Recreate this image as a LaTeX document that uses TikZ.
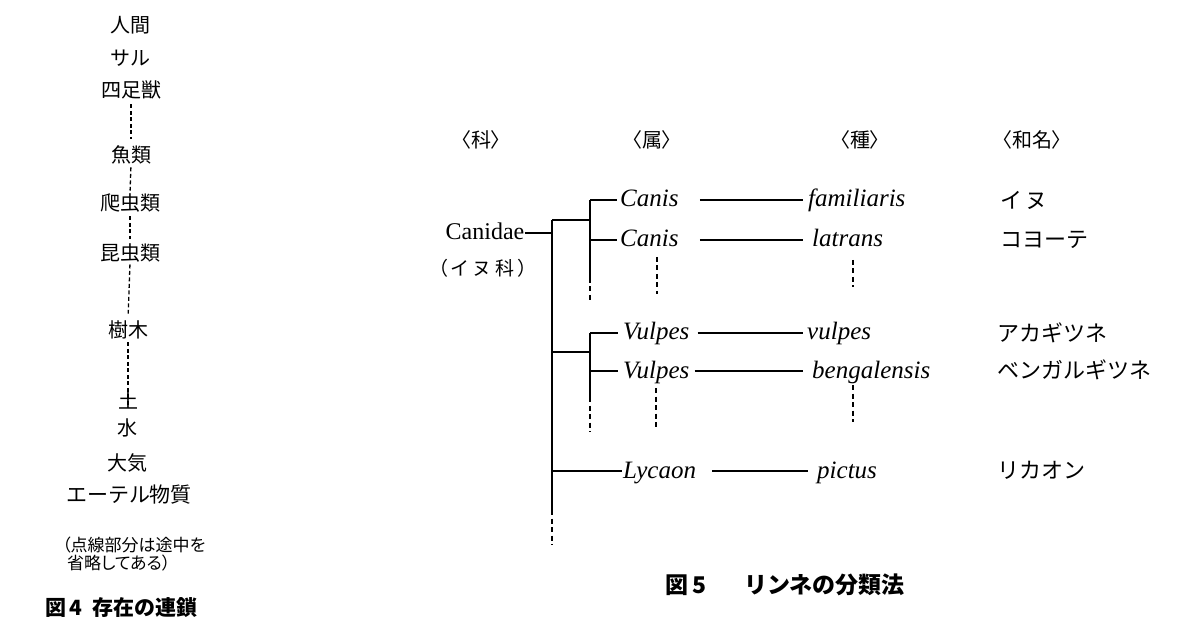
\documentclass[tikz,border=0pt]{standalone}
\usepackage{fontspec}
\setmainfont{Liberation Serif}
\newfontfamily\jp{Noto Sans CJK JP}
\newfontfamily\jpp[RawFeature=+palt]{Noto Sans CJK JP}
\tikzset{
  ln/.style={line width=1.4pt},
  dsh/.style={line width=1.4pt, dash pattern=on 5pt off 3.5pt},
  ldsh/.style={line width=1.3pt, dash pattern=on 4pt off 2.5pt},
  chain/.style={font=\jp\fontsize{20}{20}\selectfont, inner sep=0pt},
  latin/.style={font=\fontsize{25}{25}\selectfont\itshape, inner sep=0pt, text height=19pt, text depth=5pt, anchor=west},
  wamei/.style={font=\jp\fontsize{22}{22}\selectfont, inner sep=0pt, anchor=west},
  hdr/.style={font=\jpp\fontsize{20}{20}\selectfont, inner sep=0pt},
  captext/.style={font=\jp\bfseries\fontsize{22}{22}\selectfont, inner sep=0pt, anchor=west}
}
\begin{document}
\begin{tikzpicture}[x=1pt,y=-1pt]
\fill[white] (0,0) rectangle (1200,636);
\useasboundingbox (0,0) rectangle (1200,636);

% ---------- Figure 4: chain of being ----------
\node[chain] (c1) at (130,25) {人間};
\node[chain] (c2) at (130,58) {サル};
\node[chain] (c3) at (131,90) {四足獣};
\node[chain] (c4) at (131,155) {魚類};
\node[chain] (c5) at (130,203) {爬虫類};
\node[chain] (c6) at (130,253) {昆虫類};
\node[chain] (c7) at (128,330) {樹木};
\node[chain] (c8) at (128,400) {土};
\node[chain] (c9) at (127,428) {水};
\node[chain] (c10) at (127,463) {大気};
\node[chain, font=\jp\fontsize{21}{21}\selectfont] (c11) at (129,495) {エーテル物質};
\draw[ldsh, shorten <=5pt, shorten >=7pt] (c3.south) -- (c4.north);
\draw[ldsh, shorten <=3pt, shorten >=3pt] (c4.south) -- (c5.north);
\draw[ldsh, shorten <=4pt, shorten >=5pt] (c5.south) -- (c6.north);
\draw[ldsh, shorten <=2pt, shorten >=7pt] (c6.south) -- (c7.north);
\draw[ldsh, shorten <=3pt, shorten >=3pt] (c7.south) -- (c8.south);
\node[font=\jpp\fontsize{17}{18}\selectfont, inner sep=0pt, anchor=west, align=left] (note) at (62,554)
  {（点線部分は途中を\\\hspace{5pt}省略してある）};
\node[captext, font=\jp\bfseries\fontsize{21}{21}\selectfont] (cap4) at (45,608) {図\,4\hspace{10pt}存在の連鎖};

% ---------- Figure 5: Linnaean classification ----------
\node[hdr] (hka) at (481,140) {〈科〉};
\node[hdr] (hzoku) at (652,140) {〈属〉};
\node[hdr] (hshu) at (860,140) {〈種〉};
\node[hdr] (hwa) at (1032,140) {〈和名〉};

\node[latin, font=\fontsize{24}{24}\selectfont, anchor=center] (fam) at (485,233) {Canidae};
\node[chain, font=\jpp\fontsize{19}{19}\selectfont] (famj) at (483,268) {（\,イ\hspace{6pt}ヌ\hspace{6pt}科\,）};

% genus
\node[latin] (g1) at (620,200) {Canis};
\node[latin] (g2) at (620,240) {Canis};
\node[latin] (g3) at (623,333) {Vulpes};
\node[latin] (g4) at (623,371) {Vulpes};
\node[latin] (g5) at (623,471) {Lycaon};
% species
\node[latin] (s1) at (808,200) {familiaris};
\node[latin] (s2) at (812,240) {latrans};
\node[latin] (s3) at (807,333) {vulpes};
\node[latin] (s4) at (812,371) {bengalensis};
\node[latin] (s5) at (817,471) {pictus};
% Japanese names
\node[wamei] (w1) at (1000,200) {イ\,ヌ};
\node[wamei] (w2) at (1000,240) {コヨーテ};
\node[wamei] (w3) at (997,333) {アカギツネ};
\node[wamei] (w4) at (997,370) {ベンガルギツネ};
\node[wamei] (w5) at (997,470) {リカオン};

% tree skeleton
\coordinate (tTop) at (552,220);
\coordinate (tJ) at (552,233);
\coordinate (tV) at (552,352);
\coordinate (tL) at (552,471);
\coordinate (tEnd) at (552,510);
\coordinate (tDash) at (552,545);
\coordinate (bC1) at (590,200);
\coordinate (bC) at (590,220);
\coordinate (bC2) at (590,240);
\coordinate (bCe) at (590,278);
\coordinate (bCd) at (590,303);
\coordinate (bV1) at (590,333);
\coordinate (bV) at (590,352);
\coordinate (bV2) at (590,371);
\coordinate (bVe) at (590,397);
\coordinate (bVd) at (590,432);

\draw[ln] (fam.east) -- (tJ);
\draw[ln] (tTop) -- (tEnd);
\draw[dsh] (tEnd) -- (tDash);
\draw[ln] (tTop) -- (bC);
\draw[ln] (bC1) -- (bCe);
\draw[dsh] (bCe) -- (bCd);
\draw[ln] (tV) -- (bV);
\draw[ln] (bV1) -- (bVe);
\draw[dsh] (bVe) -- (bVd);
\draw[ln, shorten >=3pt] (bC1) -- (g1.west);
\draw[ln, shorten >=3pt] (bC2) -- (g2.west);
\draw[ln, shorten >=5pt] (bV1) -- (g3.west);
\draw[ln, shorten >=5pt] (bV2) -- (g4.west);
\draw[ln, shorten >=1pt] (tL) -- (g5.west);

% genus -> species
\draw[ln, shorten <=21pt, shorten >=5pt] (g1.east) -- (s1.west);
\draw[ln, shorten <=21pt, shorten >=9pt] (g2.east) -- (s2.west);
\draw[ln, shorten <=8pt, shorten >=4pt] (g3.east) -- (s3.west);
\draw[ln, shorten <=5pt, shorten >=9pt] (g4.east) -- (s4.west);
\draw[ln, shorten <=16pt, shorten >=9pt] (g5.east) -- (s5.west);

% omitted members
\draw[dsh] (657,257) -- (657,294);
\draw[dsh] (853,260) -- (853,287);
\draw[dsh] (656,388) -- (656,430);
\draw[dsh] (853,385) -- (853,422);

\node[captext, font=\jp\bfseries\fontsize{23}{23}\selectfont] (cap5) at (665,585) {図\,5\hspace{38pt}リンネの分類法};
\end{tikzpicture}
\end{document}
